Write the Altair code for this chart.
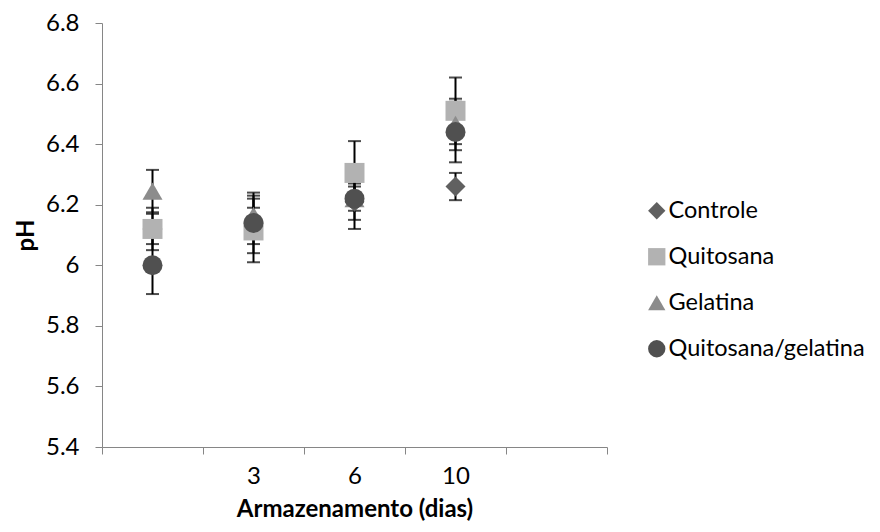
import altair as alt
import pandas as pd

# Categories on the x axis (band scale) and their tick labels
categories = ["0", "3", "6", "10", "14"]
tick_labels = ["", "3", "6", "10", ""]
days = ["0", "3", "6", "10"]

series = ["Controle", "Quitosana", "Gelatina", "Quitosana/gelatina"]
colors = ["#606060", "#b2b2b2", "#8c8c8c", "#505050"]
shapes = ["diamond", "square", "triangle-up", "circle"]

controle = [6.12, 6.13, 6.21, 6.26]
controle_err = [0.07, 0.06, 0.06, 0.045]
quitosana = [6.12, 6.115, 6.305, 6.51]
quitosana_err = [0.05, 0.105, 0.105, 0.11]
gelatina = [6.245, 6.165, 6.22, 6.465]
gelatina_err = [0.07, 0.065, 0.04, 0.085]
quit_gel = [6.00, 6.14, 6.22, 6.44]
quit_gel_err = [0.095, 0.10, 0.10, 0.10]

y_ticks = [5.4, 5.6, 5.8, 6.0, 6.2, 6.4, 6.6, 6.8]

rows = []
for s, vals, errs in zip(series,
                         [controle, quitosana, gelatina, quit_gel],
                         [controle_err, quitosana_err, gelatina_err, quit_gel_err]):
    for d, v, e in zip(days, vals, errs):
        rows.append({"serie": s, "dia": d, "ph": v, "lo": v - e, "hi": v + e})
df = pd.DataFrame(rows)
df["idx"] = range(len(df))

label_expr = "{" + ",".join(f"'{c}':'{t}'" for c, t in zip(categories, tick_labels)) + "}[datum.value]"

FONT = "Lato"
FS = 24

x_axis = alt.Axis(
    title="Armazenamento (dias)", tickBand="extent", labelExpr=label_expr,
    labelAngle=0, labelPadding=10, titlePadding=9,
)
y_axis = alt.Axis(
    title="pH", values=y_ticks, format=".1~f", grid=False, labelPadding=16,
    titlePadding=7,
)

x_enc = alt.X("dia:N", scale=alt.Scale(type="band", domain=categories, paddingInner=0, paddingOuter=0), axis=x_axis)
y_scale = alt.Scale(domain=[5.4, 6.8], nice=False, zero=False)

legend = alt.Legend(title=None, orient="none", legendX=543, legendY=176,
                    padding=0, labelFontSize=23.5, labelFont=FONT,
                    labelColor="black", symbolSize=300, rowPadding=21,
                    labelOffset=0, symbolStrokeWidth=0, labelLimit=400)

base = alt.Chart(df)

rules = base.mark_rule(color="black", strokeWidth=2).encode(
    x=x_enc, y=alt.Y("lo:Q", scale=y_scale, axis=y_axis), y2="hi:Q"
)
caps_lo = base.mark_tick(color="black", thickness=2, size=13).encode(
    x=x_enc, y=alt.Y("lo:Q", scale=y_scale, axis=y_axis)
)
caps_hi = base.mark_tick(color="black", thickness=2, size=13).encode(
    x=x_enc, y=alt.Y("hi:Q", scale=y_scale, axis=y_axis)
)
points = base.mark_point(filled=True, opacity=1, size=400, strokeWidth=0).encode(
    x=x_enc,
    y=alt.Y("ph:Q", scale=y_scale, axis=y_axis),
    color=alt.Color("serie:N", scale=alt.Scale(domain=series, range=colors), legend=legend),
    shape=alt.Shape("serie:N", scale=alt.Scale(domain=series, range=shapes), legend=legend),
    order=alt.Order("idx:Q"),
)

chart = alt.layer(rules, caps_lo, caps_hi, points, data=df).properties(
    width=505, height=424,
    autosize=alt.AutoSizeParams(type="none"),
    padding={"left": 94, "top": 15, "right": 265, "bottom": 77},
).configure_view(stroke=None).configure_axis(
    domainColor="#868686", tickColor="#868686", tickSize=7, domainWidth=1,
    labelFont=FONT, labelFontSize=FS, labelColor="black",
    titleFont=FONT, titleFontSize=FS, titleFontWeight="bold", titleColor="black",
)

chart.save("out.html", embed_options={"renderer": "svg", "actions": False})
